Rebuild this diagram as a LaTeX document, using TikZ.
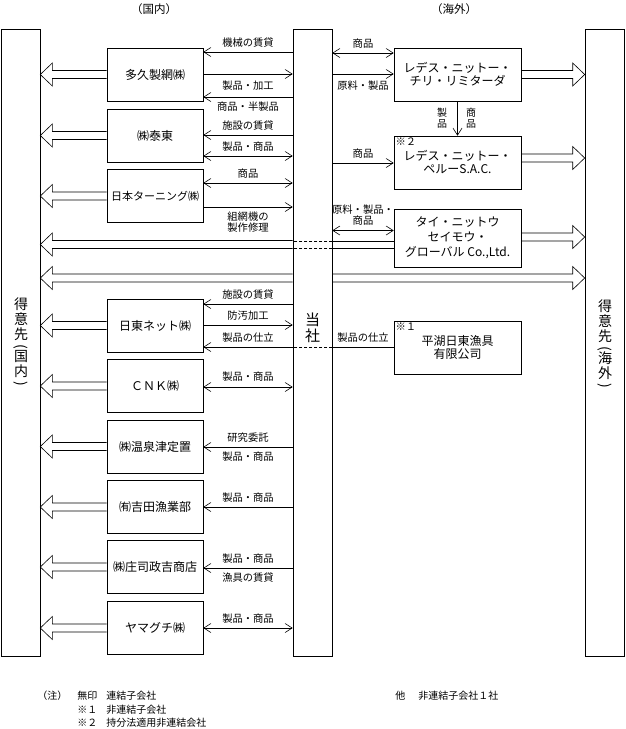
\documentclass[tikz,border=0pt]{standalone}
\usepackage{fontspec}
\setmainfont{Noto Sans CJK JP}
\usetikzlibrary{arrows.meta, calc, positioning}

\tikzset{
  >={Straight Barb[length=7pt,width=9pt]},
  tallbox/.style={draw, minimum width=39pt, minimum height=627pt, inner sep=0pt},
  dombox/.style={draw, minimum width=96pt, minimum height=53pt, inner sep=0pt, font=\fontsize{12}{14}\selectfont},
  osbox/.style={draw, minimum width=127pt, minimum height=53pt, inner sep=0pt, align=center, font=\fontsize{12}{13}\selectfont},
  lab/.style={inner sep=0.5pt, align=center, font=\fontsize{10.3}{11}\selectfont},
  labA/.style={lab, above=4pt},
  labB/.style={lab, below=4pt},
  vert/.style={inner sep=0pt, align=center, font=\fontsize{14}{15}\selectfont},
  dashline/.style={dash pattern=on 3pt off 2pt},
  notetext/.style={inner sep=0pt, anchor=west, font=\fontsize{10}{12}\selectfont}
}

% hollow wide arrow, tail #1 -> tip #2 (horizontal)
\newcommand{\fatarrow}[2]{%
  \draw let \p1=(#1), \p2=(#2), \n1={12*(\x2-\x1)/abs(\x2-\x1)} in
    (\x1,\y1+4pt) -- ({\x2-(\n1)*1pt},\y1+4pt) -- ({\x2-(\n1)*1pt},\y1+11.5pt)
    -- (\x2,\y1) -- ({\x2-(\n1)*1pt},\y1-11.5pt) -- ({\x2-(\n1)*1pt},\y1-4pt) -- (\x1,\y1-4pt);}

\begin{document}
\begin{tikzpicture}[x=1pt, y=-1pt, line width=0.6pt]
\useasboundingbox (0,0) rectangle (625,729);

\node[lab, font=\fontsize{11.5}{13}\selectfont] (tdom) at (154,9) {（国内）};
\node[lab, font=\fontsize{11.5}{13}\selectfont] (tovs) at (454,9) {（海外）};

\draw (20.5,342.5) node[tallbox] (gL) {}
  (312.5,342.5) node[tallbox] (ts) {}
  (604.5,342.5) node[tallbox] (gR) {};
\node[vert] (gLt) at (21,343) {得\\意\\先\\[-4pt]\rotatebox[origin=c]{-90}{(}\\[-4pt]国\\内\\[-4pt]\rotatebox[origin=c]{-90}{)}};
\node[vert] (gRt) at (605,345) {得\\意\\先\\[-4pt]\rotatebox[origin=c]{-90}{(}\\[-4pt]海\\外\\[-4pt]\rotatebox[origin=c]{-90}{)}};
\node[vert, font=\fontsize{15}{16.5}\selectfont] (tst) at (312.5,328) {当\\社};

% domestic companies
\draw (155,74.5) node[dombox] (taku) {多久製網㈱}
  (155,135.5) node[dombox] (taito) {㈱泰東}
  (155,196) node[dombox, font=\fontsize{11}{13}\selectfont] (nturn) {日本ターニング㈱}
  (155,325.5) node[dombox] (nitto) {日東ネット㈱}
  (155,386) node[dombox] (cnk) {ＣＮＫ㈱}
  (155,446.5) node[dombox] (yunotsu) {㈱温泉津定置}
  (155,507) node[dombox] (yoshida) {㈲吉田漁業部}
  (155,567) node[dombox] (shoji) {㈱庄司政吉商店}
  (155,628) node[dombox] (yamag) {ヤマグチ㈱};

% overseas companies
\draw (457.5,74.5) node[osbox] (chile) {レデス・ニットー・\\チリ・リミターダ}
  (457.5,162.5) node[osbox] (peru) {レデス・ニットー・\\ペルーS.A.C.}
  (457.5,238) node[osbox, minimum height=58pt, font=\fontsize{12}{15}\selectfont] (thai) {タイ・ニットウ\\セイモウ・\\グローバル Co.,Ltd.}
  (457.5,347.5) node[osbox] (pinghu) {平湖日東漁具\\有限公司};
\node[lab, anchor=north west] (m2) at ([xshift=1pt,yshift=-1pt]peru.north west) {※２};
\node[lab, anchor=north west] (m1) at ([xshift=1pt,yshift=-1pt]pinghu.north west) {※１};

% domestic flows
\draw[<-] (taku.east |- 0,52) -- node[labA] (l1) {機械の賃貸} (ts.west |- 0,52);
\draw[->] (taku.east |- 0,74) -- node[lab, below=6.5pt] (l2) {製品・加工} (ts.west |- 0,74);
\draw[<-] (taku.east |- 0,97) -- node[labB] (l3) {商品・半製品} (ts.west |- 0,97);
\draw[<-] (taito.east |- 0,135) -- node[labA] (l4) {施設の賃貸} (ts.west |- 0,135);
\draw[<->] (taito.east |- 0,156) -- node[labA] (l5) {製品・商品} (ts.west |- 0,156);
\draw[<->] (nturn.east |- 0,183) -- node[labA] (l6) {商品} (ts.west |- 0,183);
\draw[->] (nturn.east |- 0,207) -- node[labB] (l7) {組網機の\\製作修理} (ts.west |- 0,207);
\draw[<-] (nitto.east |- 0,304) -- node[labA] (l8) {施設の賃貸} (ts.west |- 0,304);
\draw[->] (nitto.east |- 0,325) -- node[labA] (l9) {防汚加工} (ts.west |- 0,325);
\draw[<-] (nitto.east |- 0,347) -- node[labA] (l10) {製品の仕立} (ts.west |- 0,347);
\draw[<->] (cnk.east |- 0,387) -- node[lab, above=5pt] (l11) {製品・商品} (ts.west |- 0,387);
\draw[<-] (yunotsu.east |- 0,447) -- node[labA] (l12) {研究委託} node[labB] (l13) {製品・商品} (ts.west |- 0,447);
\draw[<-] (yoshida.east |- 0,507) -- node[labA] (l14) {製品・商品} (ts.west |- 0,507);
\draw[<-] (shoji.east |- 0,568) -- node[labA] (l15) {製品・商品} node[labB] (l16) {漁具の賃貸} (ts.west |- 0,568);
\draw[<->] (yamag.east |- 0,628) -- node[labA] (l17) {製品・商品} (ts.west |- 0,628);

% overseas flows
\draw[<->] (ts.east |- 0,53) -- node[labA] (o1) {商品} (chile.west |- 0,53);
\draw[->] (ts.east |- 0,74) -- node[lab, below=6.5pt] (o2) {原料・製品} (chile.west |- 0,74);
\draw[->] (chile.south) -- (peru.north);
\node[lab, font=\fontsize{10}{10.5}\selectfont] (v1) at (442,118) {製\\品};
\node[lab, font=\fontsize{10}{10.5}\selectfont] (v2) at (471,118) {商\\品};
\draw[->] (ts.east |- 0,163) -- node[labA] (o3) {商品} (peru.west |- 0,163);
\draw[<->] (ts.east |- 0,230.5) -- node[labA] (o4) {原料・製品・\\商品} (thai.west |- 0,230.5);
\draw (pinghu.west |- 0,347) -- node[labA] (o5) {製品の仕立} (ts.east |- 0,347);
\draw[dashline] (ts.east |- 0,347) -- (ts.west |- 0,347);

% thai -> domestic customers
\draw (thai.west |- 0,241) -- (ts.east |- 0,241) (thai.west |- 0,248) -- (ts.east |- 0,248);
\draw[dashline] (ts.east |- 0,241) -- (ts.west |- 0,241) (ts.east |- 0,248) -- (ts.west |- 0,248);
\fatarrow{ts.west |- 0,244.5}{gL.east |- 0,244.5}

% direct sales
\fatarrow{ts.west |- 0,278}{gL.east |- 0,278}
\fatarrow{ts.east |- 0,278}{gR.west |- 0,278}

\foreach \b in {taku,taito,nturn,nitto,cnk,yunotsu,yoshida,shoji,yamag}
  \fatarrow{\b.west}{\b.west -| gL.east};
\fatarrow{chile.east}{chile.east -| gR.west}
\fatarrow{peru.east |- 0,158}{gR.west |- 0,158}
\fatarrow{thai.east |- 0,237}{gR.west |- 0,237}

% notes
\node[notetext] (n0) at (37,696) {（注）};
\node[notetext] (n1) at (77,696) {無印};
\node[notetext] (n2) at (106,696) {連結子会社};
\node[notetext] (n3) at (77,709.5) {※１};
\node[notetext] (n4) at (106,709.5) {非連結子会社};
\node[notetext] (n5) at (77,722.5) {※２};
\node[notetext] (n6) at (106,722.5) {持分法適用非連結会社};
\node[notetext] (n7) at (395,696) {他};
\node[notetext] (n8) at (418,696) {非連結子会社１社};
\end{tikzpicture}
\end{document}
